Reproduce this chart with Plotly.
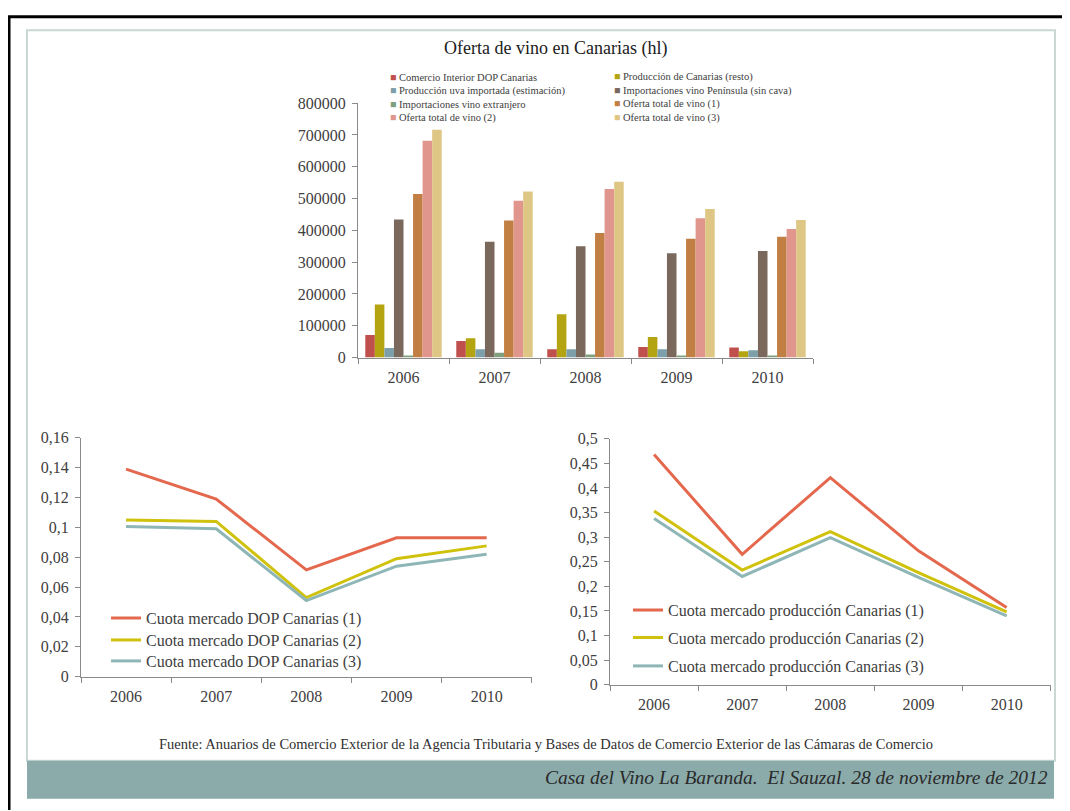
import plotly.graph_objects as go

# ---------------- data ----------------
years = ["2006", "2007", "2008", "2009", "2010"]

bar_names = [
    "Comercio Interior DOP Canarias",
    "Producción de Canarias (resto)",
    "Producción uva importada (estimación)",
    "Importaciones vino Península (sin cava)",
    "Importaciones vino extranjero",
    "Oferta total de vino (1)",
    "Oferta total de vino (2)",
    "Oferta total de vino (3)",
]
comercio_dop = [71000, 52000, 26000, 33000, 32000]
produccion_resto = [167000, 61000, 136000, 65000, 20000]
uva_importada = [30000, 26000, 26000, 26000, 23000]
import_peninsula = [434000, 364000, 350000, 328000, 335000]
import_extranjero = [7000, 15000, 10000, 7000, 7000]
oferta_1 = [514000, 431000, 392000, 374000, 380000]
oferta_2 = [682000, 493000, 530000, 438000, 404000]
oferta_3 = [716000, 522000, 553000, 467000, 433000]

dop_names = ["Cuota mercado DOP Canarias (1)",
             "Cuota mercado DOP Canarias (2)",
             "Cuota mercado DOP Canarias (3)"]
dop_1 = [0.139, 0.119, 0.0715, 0.093, 0.093]
dop_2 = [0.105, 0.104, 0.053, 0.079, 0.0876]
dop_3 = [0.1005, 0.099, 0.051, 0.074, 0.082]

prod_names = ["Cuota mercado producción Canarias (1)",
              "Cuota mercado producción Canarias (2)",
              "Cuota mercado producción Canarias (3)"]
prod_1 = [0.468, 0.265, 0.421, 0.272, 0.157]
prod_2 = [0.353, 0.233, 0.311, 0.228, 0.148]
prod_3 = [0.338, 0.220, 0.299, 0.218, 0.140]

title_text = "Oferta de vino en Canarias (hl)"
source_text = ("Fuente: Anuarios de Comercio Exterior de la Agencia Tributaria y Bases de Datos "
               "de Comercio Exterior de las Cámaras de Comercio")
footer_text = "Casa del Vino La Baranda.  El Sauzal. 28 de noviembre de 2012"

# ---------------- style ----------------
W, H = 1070, 811
FONT = "Liberation Serif"
TXT = "#404040"
AX = "#8a8a8a"
bar_colors = ["#c0504d", "#b5a411", "#7d9fa9", "#7a685c",
              "#7f9f7f", "#c27f43", "#e1968d", "#dec785"]
line_colors = ["#e4684d", "#d0c20c", "#8fb6b6"]


def tx(x):
    # target page x -> figure x (page offset of the plot div)
    return (x - 8) / W


def ty(y):
    # target page y -> figure paper y
    return 1 - (y / 0.981 - 16) / H


fig = go.Figure()

bar_series = [comercio_dop, produccion_resto, uva_importada, import_peninsula,
              import_extranjero, oferta_1, oferta_2, oferta_3]
for name, vals, col in zip(bar_names, bar_series, bar_colors):
    fig.add_trace(go.Bar(x=years, y=vals, name=name, marker_color=col,
                         marker_line_width=0, showlegend=False,
                         xaxis="x", yaxis="y"))

left_rows = [619, 641, 662]
right_rows = [611, 638.5, 667]
legend_defs = {}
for i, (name, vals) in enumerate(zip(dop_names, [dop_1, dop_2, dop_3])):
    lg = "legend" if i == 0 else "legend%d" % (i + 1)
    fig.add_trace(go.Scatter(x=years, y=vals, name=name, mode="lines",
                             line=dict(color=line_colors[i], width=3),
                             xaxis="x2", yaxis="y2", legend=lg))
    legend_defs[lg] = (106, left_rows[i])

for i, (name, vals) in enumerate(zip(prod_names, [prod_1, prod_2, prod_3])):
    lg = "legend%d" % (i + 4)
    fig.add_trace(go.Scatter(x=years, y=vals, name=name, mode="lines",
                             line=dict(color=line_colors[i], width=3),
                             xaxis="x3", yaxis="y3", legend=lg))
    legend_defs[lg] = (628, right_rows[i])

xcommon = dict(type="category", showline=True, linecolor=AX, linewidth=1,
               ticks="outside", tickson="boundaries", ticklen=5, tickcolor=AX,
               showgrid=False, zeroline=False, range=[-0.5, 4.5],
               ticklabelstandoff=5,
               tickfont=dict(family=FONT, size=16, color=TXT), fixedrange=True)
ycommon = dict(showline=True, linecolor=AX, linewidth=1, ticks="outside",
               ticklen=5, tickcolor=AX, showgrid=False, zeroline=False,
               ticklabelstandoff=3,
               tickfont=dict(family=FONT, size=16, color=TXT), fixedrange=True)

# chart geometry in target page pixels
bx0, bx1, by0, by1 = 358, 813, 358, 103
lx0, lx1, ly0, ly1 = 81, 531.7, 677.7, 438.3
rx0, rx1, ry0, ry1 = 610, 1050.7, 685.7, 439.3

layout = dict(
    width=W, height=H,
    margin=dict(l=0, r=0, t=0, b=0),
    paper_bgcolor="white", plot_bgcolor="rgba(0,0,0,0)",
    separators=",.",
    barmode="group", bargap=0.16, bargroupgap=0,
    font=dict(family=FONT, color=TXT),
    xaxis=dict(xcommon, domain=[tx(bx0), tx(bx1)], anchor="y"),
    yaxis=dict(ycommon, domain=[ty(by0), ty(by1)], anchor="x",
               range=[0, 800000], dtick=100000, tickformat="d"),
    xaxis2=dict(xcommon, domain=[tx(lx0), tx(lx1)], anchor="y2"),
    yaxis2=dict(ycommon, domain=[ty(ly0), ty(ly1)], anchor="x2",
                range=[0, 0.16], dtick=0.02),
    xaxis3=dict(xcommon, domain=[tx(rx0), tx(rx1)], anchor="y3"),
    yaxis3=dict(ycommon, domain=[ty(ry0), ty(ry1)], anchor="x3",
                range=[0, 0.5], dtick=0.05),
)
for lg, (lx, ly) in legend_defs.items():
    layout[lg] = dict(x=tx(lx), y=ty(ly), xanchor="left", yanchor="middle",
                      bgcolor="rgba(0,0,0,0)",
                      font=dict(family=FONT, size=16, color=TXT))
fig.update_layout(**layout)

shapes = []
# outer black frame (left, top, right)
shapes.append(dict(type="path", xref="paper", yref="paper",
                   path="M %f %f L %f %f L %f %f L %f %f" % (
                       tx(9), 0, tx(9), 0.999, tx(1064), 0.999, tx(1064), 0),
                   line=dict(color="black", width=3), layer="below"))
# inner light frame
shapes.append(dict(type="rect", xref="paper", yref="paper",
                   x0=tx(27), x1=tx(1055), y0=ty(762), y1=ty(30),
                   line=dict(color="#c9d8d5", width=2), layer="below"))
# teal footer band
shapes.append(dict(type="rect", xref="paper", yref="paper",
                   x0=tx(27), x1=tx(1054), y0=ty(800), y1=ty(762),
                   fillcolor="#8aabaa", line=dict(width=0), layer="below"))
fig.update_layout(shapes=shapes)

ann = []
ann.append(dict(text=title_text, x=tx(555), y=ty(48), xref="paper", yref="paper",
                showarrow=False, xanchor="center", yanchor="middle",
                font=dict(family=FONT, size=18, color="#202020")))
# bar legend (two columns, row-major order)
col_x = [401 - 13, 625 - 13]
row_y = [77, 90.5, 104, 117.5]
for k, (name, col) in enumerate(zip(bar_names, bar_colors)):
    r, c = divmod(k, 2)
    ann.append(dict(text='<span style="color:%s">■</span> %s' % (col, name),
                    x=tx(col_x[c]), y=ty(row_y[r]), xref="paper", yref="paper",
                    showarrow=False, xanchor="left", yanchor="middle",
                    font=dict(family=FONT, size=10.5, color=TXT)))
ann.append(dict(text=source_text, x=tx(546), y=ty(745), xref="paper", yref="paper",
                showarrow=False, xanchor="center", yanchor="middle",
                font=dict(family=FONT, size=14.5, color="#303030")))
ann.append(dict(text="<i>%s</i>" % footer_text, x=tx(1050), y=ty(779),
                xref="paper", yref="paper", showarrow=False,
                xanchor="right", yanchor="middle",
                font=dict(family=FONT, size=19.5, color="#2a2a2a")))
fig.update_layout(annotations=ann)

fig.write_html("out.html")
